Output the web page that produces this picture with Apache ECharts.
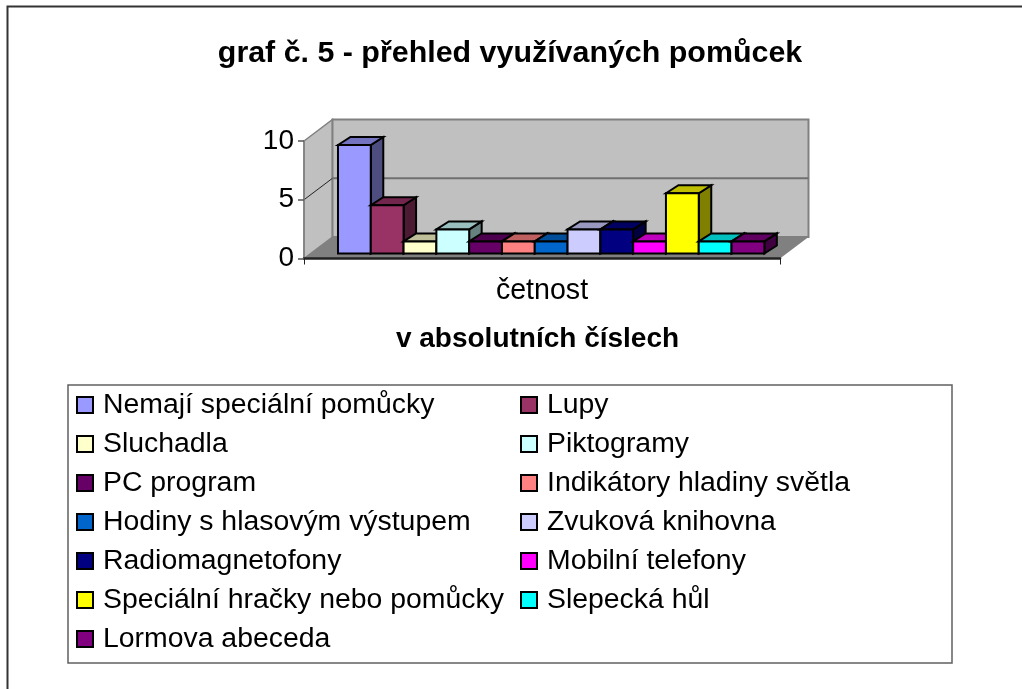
<!DOCTYPE html>
<html>
<head>
<meta charset="utf-8">
<script src="https://cdn.jsdelivr.net/npm/echarts@6/dist/echarts.min.js"></script>
<style>html,body{margin:0;padding:0;background:#fff}#c{width:1022px;height:689px}</style>
</head>
<body>
<div id="c"></div>
<script>
const titleText = 'graf č. 5 - přehled využívaných pomůcek';
const axisTitle = 'v absolutních číslech';
const categories = ['četnost'];
const seriesNames = ['Nemají speciální pomůcky','Lupy','Sluchadla','Piktogramy','PC program','Indikátory hladiny světla','Hodiny s hlasovým výstupem','Zvuková knihovna','Radiomagnetofony','Mobilní telefony','Speciální hračky nebo pomůcky','Slepecká hůl','Lormova abeceda'];
const seriesValues = [9,4,1,2,1,1,1,2,2,1,5,1,1];
const seriesColors = ['#9999FF','#993366','#FFFFCC','#CCFFFF','#660066','#FF8080','#0066CC','#CCCCFF','#000080','#FF00FF','#FFFF00','#00FFFF','#800080'];
const gridValues = [5];
const yMax = 10, yStep = 5;

function shade(hex, k) {
  const n = parseInt(hex.slice(1), 16);
  const p = s => Math.round(((n >> s) & 255) * k);
  return 'rgb(' + p(16) + ',' + p(8) + ',' + p(0) + ')';
}
const WALL_DX = 28.5, WALL_DY = -21.5, BAR_DX = 12.5, BAR_DY = -8, BASE_DY = -5;
const poly = (points, fill, stroke, lineWidth) => ({
  type: 'polygon', shape: { points },
  style: { fill, stroke: stroke || 'none', lineWidth: lineWidth || 0, lineJoin: 'miter' }
});
const line = (x1, y1, x2, y2, stroke, lineWidth) => ({
  type: 'line', shape: { x1, y1, x2, y2 }, style: { stroke, lineWidth }
});

function wallsItem(params, api) {
  const band = api.size([1, 0])[0];
  const cx = api.coord([0, 0])[0];
  const L = cx - band / 2, R = cx + band / 2;
  const y0 = api.coord([0, 0])[1], yT = api.coord([0, yMax])[1];
  const ch = [
    poly([[L, yT], [L + WALL_DX, yT + WALL_DY], [L + WALL_DX, y0 + WALL_DY], [L, y0]], '#C0C0C0', '#808080', 1.5),
    poly([[L + WALL_DX, yT + WALL_DY], [R + WALL_DX, yT + WALL_DY], [R + WALL_DX, y0 + WALL_DY], [L + WALL_DX, y0 + WALL_DY]], '#C0C0C0', '#808080', 2),
    poly([[L, y0], [R, y0], [R + WALL_DX, y0 + WALL_DY], [L + WALL_DX, y0 + WALL_DY]], '#808080')
  ];
  gridValues.forEach(v => {
    const y = api.coord([0, v])[1];
    ch.push(line(L, y, L + WALL_DX, y + WALL_DY, '#222', 1));
    ch.push(line(L + WALL_DX, y + WALL_DY, R + WALL_DX, y + WALL_DY, '#707070', 2));
  });
  return { type: 'group', children: ch };
}

function barItem(i) {
  return function (params, api) {
    const band = api.size([1, 0])[0];
    const cx = api.coord([0, 0])[0];
    const L = cx - band / 2;
    const w = band * 0.0689;
    const x = L + band * 0.0714 + i * w;
    const y0 = api.coord([0, 0])[1];
    const base = y0 + BASE_DY;
    const top = base - (y0 - api.coord([0, api.value(1)])[1]) * 1.026;
    const c = seriesColors[i];
    const lw = 2, k = '#000';
    return { type: 'group', children: [
      poly([[x + w, top], [x + w + BAR_DX, top + BAR_DY], [x + w + BAR_DX, base + BAR_DY], [x + w, base]], shade(c, 0.5), k, lw),
      poly([[x, top], [x + BAR_DX, top + BAR_DY], [x + w + BAR_DX, top + BAR_DY], [x + w, top]], shade(c, 0.75), k, lw),
      poly([[x, top], [x + w, top], [x + w, base], [x, base]], c, k, lw)
    ] };
  };
}

const FONT = '"Liberation Sans", Arial, sans-serif';
const barSeries = seriesNames.map((name, i) => ({
  name, type: 'custom', z: 2 , coordinateSystem: 'cartesian2d',
  encode: { x: 0, y: 1 }, itemStyle: { color: seriesColors[i] },
  data: [[0, seriesValues[i]]], renderItem: barItem(i), clip: false
}));
const legendCommon = {
  orient: 'vertical', icon: 'rect', itemWidth: 16, itemHeight: 16, itemGap: 11, padding: 0, height: 290,
  itemStyle: { borderColor: '#000', borderWidth: 2 }, selectedMode: false,
  textStyle: { fontFamily: FONT, fontSize: 28.4, color: '#000', padding: [5, 0, 0, 5] }
};

const chart = echarts.init(document.getElementById('c'), null, { renderer: 'canvas' });
chart.setOption({
  animation: false,
  backgroundColor: '#fff',
  title: { text: titleText, left: 510, top: 39, textAlign: 'center', padding: 0,
    textStyle: { fontFamily: FONT, fontSize: 30.4, fontWeight: 'bold', color: '#000' } },
  grid: { left: 304, top: 141, width: 476, height: 117.5 },
  xAxis: { type: 'category', data: categories, z: 3,
    axisLine: { lineStyle: { color: '#222', width: 2.5 } },
    axisTick: { show: true, length: 6, lineStyle: { color: '#222', width: 1 } },
    axisLabel: { fontFamily: FONT, fontSize: 28.6, color: '#000', margin: 18 },
    name: axisTitle, nameLocation: 'middle', nameGap: 67,
    nameTextStyle: { fontFamily: FONT, fontSize: 28, fontWeight: 'bold', color: '#000', padding: [0, 9, 0, 0] } },
  yAxis: { type: 'value', min: 0, max: yMax, interval: yStep, z: 3,
    axisLine: { show: true, lineStyle: { color: '#808080', width: 1.5 } },
    axisTick: { show: true, length: 6, lineStyle: { color: '#555', width: 1.5 } },
    splitLine: { show: false },
    axisLabel: { fontFamily: FONT, fontSize: 28, color: '#000', margin: 10 } },
  legend: [
    Object.assign({}, legendCommon, { left: 76, top: 391, data: seriesNames.filter((_, i) => i % 2 === 0) }),
    Object.assign({}, legendCommon, { left: 520, top: 391, data: seriesNames.filter((_, i) => i % 2 === 1) })
  ],
  graphic: [
    { type: 'polyline', silent: true, z: -10, shape: { points: [[7.5, 689], [7.5, 6.5], [1022, 6.5]] }, style: { fill: 'none', stroke: '#333', lineWidth: 2 } },
    { type: 'rect', silent: true, z: -10, shape: { x: 68, y: 385, width: 884, height: 278 }, style: { fill: '#fff', stroke: '#606060', lineWidth: 1.5 } }
  ],
  series: [{ type: 'custom', z: 1, coordinateSystem: 'cartesian2d', encode: { x: 0, y: 1 }, data: [[0, 0]], renderItem: wallsItem, clip: false, silent: true }].concat(barSeries)
});
</script>
</body>
</html>
